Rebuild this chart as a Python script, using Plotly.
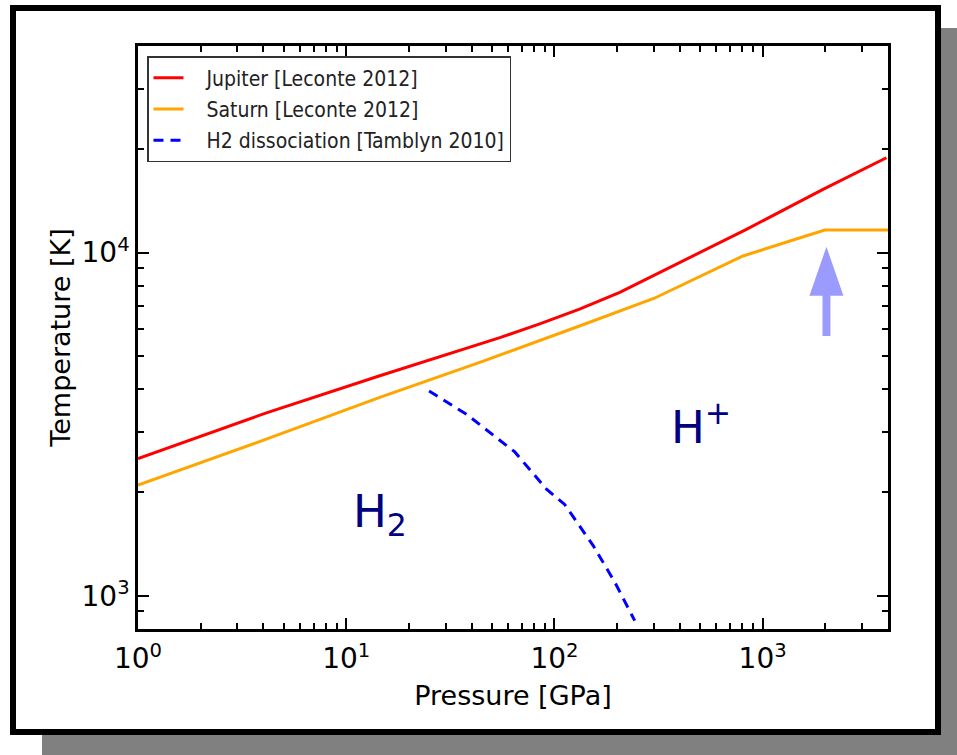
import math
import plotly.graph_objects as go

# ---------------- data ----------------
jupiter_P = [1, 4.07, 14.5, 54.7, 85, 132, 206, 320, 836, 1950, 3930]
jupiter_T = [2510, 3400, 4375, 5650, 6200, 6840, 7660, 8750, 11690, 15280, 18900]

saturn_P = [1, 4.07, 14.5, 43.8, 132, 300, 805, 1986, 4000]
saturn_T = [2100, 2850, 3784, 4786, 6110, 7350, 9775, 11640, 11640]

h2_P = [25.0, 37.8, 64.5, 91.6, 112, 153.5, 195, 243]
h2_T = [3950, 3380, 2625, 2045, 1845, 1400, 1095, 846]

legend_names = ["Jupiter [Leconte 2012]", "Saturn [Leconte 2012]", "H2 dissociation [Tamblyn 2010]"]

x_tick_vals = [1, 10, 100, 1000]
x_tick_text = ["10<sup>0</sup>", "10<sup>1</sup>", "10<sup>2</sup>", "10<sup>3</sup>"]
y_tick_vals = [1000, 10000]
y_tick_text = ["10<sup>3</sup>", "10<sup>4</sup>"]

x_range = [1, 4000]
y_range = [800, 40000]

# label / arrow positions (data coordinates)
h2_label_pos = (14.5, 1730)
hplus_label_pos = (505, 3162)
arrow_P = 2025
arrow_T_tip = 10400
arrow_T_headbase = 7480
arrow_T_tail = 5710
arrow_head_halfwidth_dec = 0.0816
arrow_shaft_halfwidth_dec = 0.019

# ---------------- layout geometry ----------------
W, H = 957, 755
L, R, T, B = 138, 69, 46, 126
PW, PH = W - L - R, H - T - B

def px2paper_x(px):
    return (px - L) / PW

def px2paper_y(py):
    return (H - B - py) / PH

FONT = "DejaVu Sans, Bitstream Vera Sans, sans-serif"
LEG_FONT = "DejaVu Sans Condensed, DejaVu Sans, sans-serif"
PAD = "\u00a0\u00a0\u00a0"

fig = go.Figure()

fig.add_trace(go.Scatter(x=jupiter_P, y=jupiter_T, mode="lines",
                         name=PAD + legend_names[0], legendgroup="j",
                         line=dict(color="#ff0000", width=3)))
fig.add_trace(go.Scatter(x=saturn_P, y=saturn_T, mode="lines",
                         name=PAD + legend_names[1], legendgroup="s",
                         line=dict(color="#ffa500", width=3)))
fig.add_trace(go.Scatter(x=h2_P, y=h2_T, mode="lines",
                         name=PAD + legend_names[2], legendgroup="h",
                         line=dict(color="#0000ff", width=3, dash="10px,7px")))

# arrow polygon
hw = 10 ** arrow_head_halfwidth_dec
sw = 10 ** arrow_shaft_halfwidth_dec
arrow_x = [arrow_P / sw, arrow_P / sw, arrow_P / hw, arrow_P, arrow_P * hw, arrow_P * sw, arrow_P * sw, arrow_P / sw]
arrow_y = [arrow_T_tail, arrow_T_headbase, arrow_T_headbase, arrow_T_tip, arrow_T_headbase, arrow_T_headbase, arrow_T_tail, arrow_T_tail]
fig.add_trace(go.Scatter(x=arrow_x, y=arrow_y, mode="lines", fill="toself",
                         fillcolor="#9a9aff", line=dict(width=0, color="#9a9aff"),
                         showlegend=False, hoverinfo="skip"))

def minor_vals(lo, hi):
    out = []
    for d in range(-1, 6):
        for k in range(2, 10):
            v = k * 10 ** d
            if lo <= v <= hi:
                out.append(v)
    return out

axis_common = dict(
    type="log", showgrid=False, zeroline=False,
    showline=True, linecolor="black", linewidth=2.5, mirror="allticks",
    ticks="inside", ticklen=11, tickwidth=2, tickcolor="black",
    tickmode="array",
    tickfont=dict(family=FONT, size=28, color="black"),
)

fig.update_xaxes(
    **axis_common,
    range=[math.log10(x_range[0]), math.log10(x_range[1])],
    tickvals=x_tick_vals, ticktext=x_tick_text, ticklabelstandoff=3,
    minor=dict(tickmode="array", tickvals=minor_vals(*x_range), ticks="inside",
               ticklen=6, tickwidth=2, tickcolor="black", showgrid=False),
    title=dict(text="Pressure [GPa]", font=dict(family=FONT, size=27, color="black"), standoff=12),
)
fig.update_yaxes(
    **axis_common,
    range=[math.log10(y_range[0]), math.log10(y_range[1])],
    tickvals=y_tick_vals, ticktext=y_tick_text,
    minor=dict(tickmode="array", tickvals=minor_vals(*y_range), ticks="inside",
               ticklen=6, tickwidth=2, tickcolor="black", showgrid=False),
    title=dict(text="Temperature [K]", font=dict(family=FONT, size=27, color="black"), standoff=4),
)

annotations = [
    dict(x=math.log10(h2_label_pos[0]), y=math.log10(h2_label_pos[1]), xref="x", yref="y",
         text="H<sub>2</sub>", showarrow=False,
         font=dict(family=FONT, size=45, color="#000080")),
    dict(x=math.log10(hplus_label_pos[0]), y=math.log10(hplus_label_pos[1]), xref="x", yref="y",
         text="H<sup>+</sup>", showarrow=False,
         font=dict(family=FONT, size=45, color="#000080")),
]

shapes = [
    # drop shadow
    dict(type="rect", xref="paper", yref="paper", layer="below",
         x0=px2paper_x(42), x1=px2paper_x(1000), y0=px2paper_y(28), y1=px2paper_y(800),
         fillcolor="#808080", line=dict(width=0)),
    # frame
    dict(type="rect", xref="paper", yref="paper", layer="below",
         x0=px2paper_x(13), x1=px2paper_x(938), y0=px2paper_y(8), y1=px2paper_y(732),
         fillcolor="white", line=dict(color="black", width=6)),
]

fig.update_layout(
    width=W, height=H,
    margin=dict(l=L, r=R, t=T, b=B, autoexpand=False),
    paper_bgcolor="white", plot_bgcolor="rgba(0,0,0,0)",
    font=dict(family=FONT, color="black"),
    showlegend=True,
    legend=dict(x=px2paper_x(147), y=px2paper_y(56), xanchor="left", yanchor="top",
                bgcolor="white", bordercolor="#333333", borderwidth=1.5,
                font=dict(family=LEG_FONT, size=21, color="#222222"),
                tracegroupgap=1),
    annotations=annotations,
    shapes=shapes,
)

fig.write_html("out.html",
               config={"displayModeBar": False},
               post_script="document.body.style.margin='0';document.body.style.overflow='hidden';")
